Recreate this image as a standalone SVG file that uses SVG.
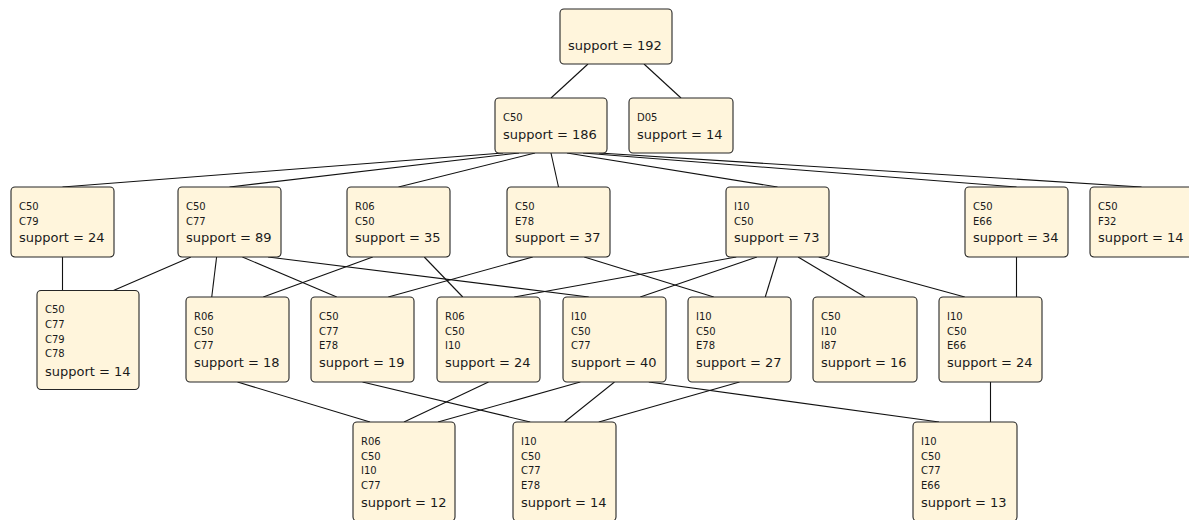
<svg xmlns="http://www.w3.org/2000/svg" width="1189" height="520" viewBox="0 0 1189 520">
<style>
.box{fill:#fff5dc;stroke:#262626;stroke-width:1.1}
.e{stroke:#111;stroke-width:1.1;fill:none}
.l{font-family:"DejaVu Sans",sans-serif;font-size:10px;fill:#1a1a1a}
.s{font-family:"DejaVu Sans",sans-serif;font-size:13px;fill:#1a1a1a}
</style>
<rect width="1189" height="520" fill="#ffffff"/>
<g id="connectors">
<line class="e" x1="588" y1="64" x2="551" y2="98"/>
<line class="e" x1="644" y1="64" x2="681" y2="98"/>
<line class="e" x1="503" y1="153" x2="62.5" y2="187"/>
<line class="e" x1="519" y1="153" x2="229.5" y2="187"/>
<line class="e" x1="535" y1="153" x2="398.5" y2="187"/>
<line class="e" x1="551" y1="153" x2="558.5" y2="187"/>
<line class="e" x1="567" y1="153" x2="777.5" y2="187"/>
<line class="e" x1="583" y1="153" x2="1016.5" y2="187"/>
<line class="e" x1="599" y1="153" x2="1141.5" y2="187"/>
<line class="e" x1="62.5" y1="257" x2="62.5" y2="290.5"/>
<line class="e" x1="190.9" y1="257" x2="113.5" y2="290.5"/>
<line class="e" x1="216.6" y1="257" x2="211.75" y2="297"/>
<line class="e" x1="242.4" y1="257" x2="336.75" y2="297"/>
<line class="e" x1="268.1" y1="257" x2="588.75" y2="297"/>
<line class="e" x1="372.75" y1="257" x2="263.25" y2="297"/>
<line class="e" x1="424.25" y1="257" x2="462.75" y2="297"/>
<line class="e" x1="532.75" y1="257" x2="388.25" y2="297"/>
<line class="e" x1="584.25" y1="257" x2="713.75" y2="297"/>
<line class="e" x1="736.3" y1="257" x2="514.25" y2="297"/>
<line class="e" x1="756.9" y1="257" x2="640.25" y2="297"/>
<line class="e" x1="777.5" y1="257" x2="765.25" y2="297"/>
<line class="e" x1="798.1" y1="257" x2="865" y2="297"/>
<line class="e" x1="818.7" y1="257" x2="964.75" y2="297"/>
<line class="e" x1="1016.5" y1="257" x2="1016.5" y2="297"/>
<line class="e" x1="237.5" y1="382" x2="370" y2="422"/>
<line class="e" x1="362.5" y1="382" x2="530.2" y2="422"/>
<line class="e" x1="488.5" y1="382" x2="404" y2="422"/>
<line class="e" x1="580.2" y1="382" x2="438" y2="422"/>
<line class="e" x1="614.5" y1="382" x2="564.5" y2="422"/>
<line class="e" x1="648.8" y1="382" x2="939" y2="422"/>
<line class="e" x1="739.5" y1="382" x2="598.8" y2="422"/>
<line class="e" x1="990.5" y1="382" x2="990.5" y2="422"/>
</g>
<g id="n-root"><rect class="box" x="560" y="9" width="112" height="55" rx="4"/><text class="s" x="568" y="50">support = 192</text></g>
<g id="n-c50"><rect class="box" x="495" y="98" width="112" height="55" rx="4"/><text class="l" x="503" y="120.5">C50</text><text class="s" x="503" y="139">support = 186</text></g>
<g id="n-d05"><rect class="box" x="629" y="98" width="104" height="55" rx="4"/><text class="l" x="637" y="120.5">D05</text><text class="s" x="637" y="139">support = 14</text></g>
<g id="n-c50-c79"><rect class="box" x="11" y="187" width="103" height="70" rx="4"/><text class="l" x="19" y="210">C50</text><text class="l" x="19" y="224.7">C79</text><text class="s" x="19" y="242.3">support = 24</text></g>
<g id="n-c50-c77"><rect class="box" x="178" y="187" width="103" height="70" rx="4"/><text class="l" x="186" y="210">C50</text><text class="l" x="186" y="224.7">C77</text><text class="s" x="186" y="242.3">support = 89</text></g>
<g id="n-r06-c50"><rect class="box" x="347" y="187" width="103" height="70" rx="4"/><text class="l" x="355" y="210">R06</text><text class="l" x="355" y="224.7">C50</text><text class="s" x="355" y="242.3">support = 35</text></g>
<g id="n-c50-e78"><rect class="box" x="507" y="187" width="103" height="70" rx="4"/><text class="l" x="515" y="210">C50</text><text class="l" x="515" y="224.7">E78</text><text class="s" x="515" y="242.3">support = 37</text></g>
<g id="n-i10-c50"><rect class="box" x="726" y="187" width="103" height="70" rx="4"/><text class="l" x="734" y="210">I10</text><text class="l" x="734" y="224.7">C50</text><text class="s" x="734" y="242.3">support = 73</text></g>
<g id="n-c50-e66"><rect class="box" x="965" y="187" width="103" height="70" rx="4"/><text class="l" x="973" y="210">C50</text><text class="l" x="973" y="224.7">E66</text><text class="s" x="973" y="242.3">support = 34</text></g>
<g id="n-c50-f32"><rect class="box" x="1090" y="187" width="103" height="70" rx="4"/><text class="l" x="1098" y="210">C50</text><text class="l" x="1098" y="224.7">F32</text><text class="s" x="1098" y="242.3">support = 14</text></g>
<g id="n-c50-c77-c79-c78"><rect class="box" x="37" y="290.5" width="102" height="99" rx="4"/><text class="l" x="45" y="313.3">C50</text><text class="l" x="45" y="328">C77</text><text class="l" x="45" y="342.7">C79</text><text class="l" x="45" y="357.4">C78</text><text class="s" x="45" y="375.5">support = 14</text></g>
<g id="n-r06-c50-c77"><rect class="box" x="186" y="297" width="103" height="85" rx="4"/><text class="l" x="194" y="320">R06</text><text class="l" x="194" y="334.7">C50</text><text class="l" x="194" y="349.4">C77</text><text class="s" x="194" y="366.8">support = 18</text></g>
<g id="n-c50-c77-e78"><rect class="box" x="311" y="297" width="103" height="85" rx="4"/><text class="l" x="319" y="320">C50</text><text class="l" x="319" y="334.7">C77</text><text class="l" x="319" y="349.4">E78</text><text class="s" x="319" y="366.8">support = 19</text></g>
<g id="n-r06-c50-i10"><rect class="box" x="437" y="297" width="103" height="85" rx="4"/><text class="l" x="445" y="320">R06</text><text class="l" x="445" y="334.7">C50</text><text class="l" x="445" y="349.4">I10</text><text class="s" x="445" y="366.8">support = 24</text></g>
<g id="n-i10-c50-c77"><rect class="box" x="563" y="297" width="103" height="85" rx="4"/><text class="l" x="571" y="320">I10</text><text class="l" x="571" y="334.7">C50</text><text class="l" x="571" y="349.4">C77</text><text class="s" x="571" y="366.8">support = 40</text></g>
<g id="n-i10-c50-e78"><rect class="box" x="688" y="297" width="103" height="85" rx="4"/><text class="l" x="696" y="320">I10</text><text class="l" x="696" y="334.7">C50</text><text class="l" x="696" y="349.4">E78</text><text class="s" x="696" y="366.8">support = 27</text></g>
<g id="n-c50-i10-i87"><rect class="box" x="813" y="297" width="104" height="85" rx="4"/><text class="l" x="821" y="320">C50</text><text class="l" x="821" y="334.7">I10</text><text class="l" x="821" y="349.4">I87</text><text class="s" x="821" y="366.8">support = 16</text></g>
<g id="n-i10-c50-e66"><rect class="box" x="939" y="297" width="103" height="85" rx="4"/><text class="l" x="947" y="320">I10</text><text class="l" x="947" y="334.7">C50</text><text class="l" x="947" y="349.4">E66</text><text class="s" x="947" y="366.8">support = 24</text></g>
<g id="n-r06-c50-i10-c77"><rect class="box" x="353" y="422" width="102" height="99" rx="4"/><text class="l" x="361" y="445">R06</text><text class="l" x="361" y="459.7">C50</text><text class="l" x="361" y="474.4">I10</text><text class="l" x="361" y="489.1">C77</text><text class="s" x="361" y="507.2">support = 12</text></g>
<g id="n-i10-c50-c77-e78"><rect class="box" x="513" y="422" width="103" height="99" rx="4"/><text class="l" x="521" y="445">I10</text><text class="l" x="521" y="459.7">C50</text><text class="l" x="521" y="474.4">C77</text><text class="l" x="521" y="489.1">E78</text><text class="s" x="521" y="507.2">support = 14</text></g>
<g id="n-i10-c50-c77-e66"><rect class="box" x="913" y="422" width="104" height="99" rx="4"/><text class="l" x="921" y="445">I10</text><text class="l" x="921" y="459.7">C50</text><text class="l" x="921" y="474.4">C77</text><text class="l" x="921" y="489.1">E66</text><text class="s" x="921" y="507.2">support = 13</text></g>
</svg>
